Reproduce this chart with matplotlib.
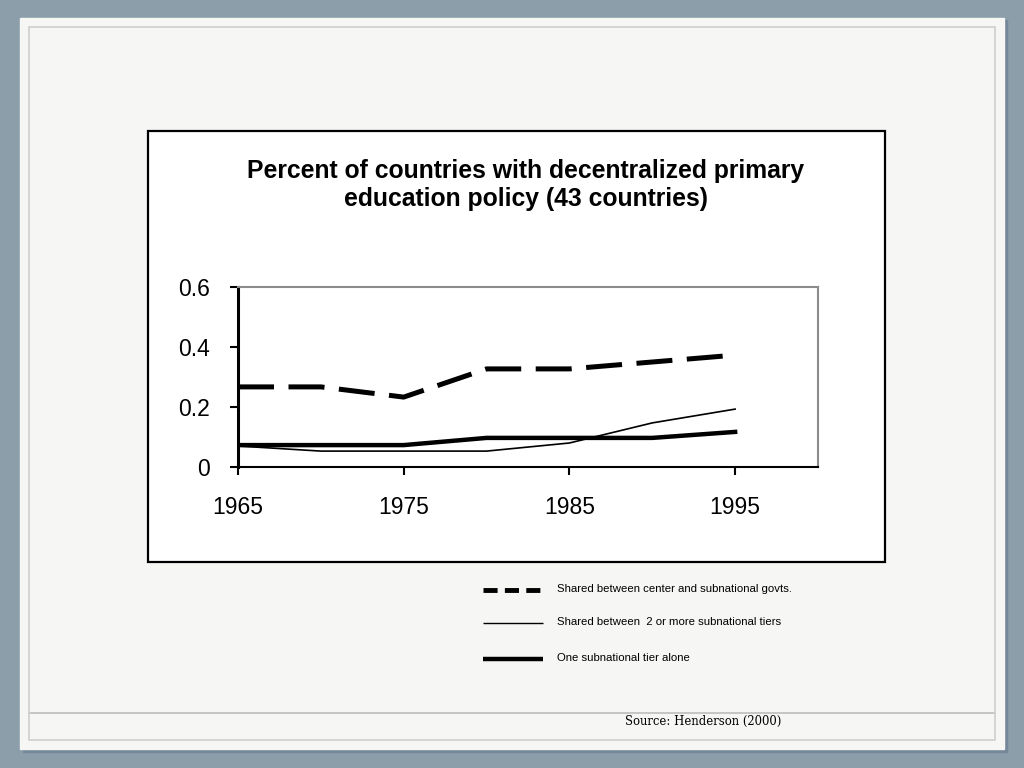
import matplotlib.pyplot as plt
from matplotlib.patches import Rectangle
from matplotlib.lines import Line2D

# data
years = [1965, 1970, 1975, 1980, 1985, 1990, 1995]
shared_center = [0.267, 0.267, 0.233, 0.327, 0.327, 0.350, 0.373]
shared_tiers = [0.070, 0.053, 0.053, 0.053, 0.080, 0.147, 0.193]
one_tier = [0.073, 0.073, 0.073, 0.097, 0.097, 0.097, 0.117]

xticks = [1965, 1975, 1985, 1995]
yticks = [0, 0.2, 0.4, 0.6]
labels = ["Shared between center and subnational govts.",
          "Shared between  2 or more subnational tiers",
          "One subnational tier alone"]

W, H = 1024, 768
fig = plt.figure(figsize=(W / 100, H / 100), dpi=100)
fig.patch.set_facecolor('#8b9eaa')

def px(x0, y0, x1, y1):
    # pixel box -> figure fraction rect
    return [x0 / W, 1 - y1 / H, (x1 - x0) / W, (y1 - y0) / H]

# slide shadow and page
fig.patches.append(Rectangle((23 / W, 1 - 752 / H), 984 / W, 732 / H,
                             transform=fig.transFigure, color='#75889a', zorder=0))
fig.patches.append(Rectangle((20 / W, 1 - 749 / H), 984 / W, 731 / H,
                             transform=fig.transFigure, color='#f6f6f5', zorder=1))
fig.patches.append(Rectangle((29 / W, 1 - 740 / H), 966 / W, 713 / H,
                             transform=fig.transFigure, fill=False,
                             edgecolor='#cfcfcc', lw=1.2, zorder=2))
fig.lines.append(Line2D([29 / W, 995 / W], [1 - 713 / H, 1 - 713 / H],
                        transform=fig.transFigure, color='#bdbdbb', lw=1.2, zorder=2))

# chart box
fig.patches.append(Rectangle((148 / W, 1 - 562 / H), 737 / W, 431 / H,
                             transform=fig.transFigure, facecolor='white',
                             edgecolor='black', lw=1.6, zorder=3))

fig.text(526 / W, 1 - 185 / H,
         "Percent of countries with decentralized primary\neducation policy (43 countries)",
         ha='center', va='center', fontsize=17.8, fontweight='bold',
         family='Liberation Sans', linespacing=1.22, zorder=4)

ax = fig.add_axes(px(238, 287, 818, 467))
ax.set_zorder(5)
ax.set_facecolor('white')
ax.plot(years, shared_center, color='black', lw=3.6, dashes=(7.2, 2.9), solid_capstyle='butt')
ax.plot(years, shared_tiers, color='black', lw=1.2)
ax.plot(years, one_tier, color='black', lw=3.2)
ax.set_xlim(1965, 2000)
ax.set_ylim(0, 0.6)
ax.set_xticks(xticks)
ax.set_yticks(yticks)
ax.set_yticklabels(['0', '0.2', '0.4', '0.6'])
for s in ['top', 'right']:
    ax.spines[s].set_color('#8c8c8c')
    ax.spines[s].set_linewidth(1.5)
ax.spines['left'].set_color('black')
ax.spines['left'].set_linewidth(2.2)
ax.spines['bottom'].set_color('black')
ax.spines['bottom'].set_linewidth(1.5)
ax.tick_params(axis='both', direction='out', length=6, width=1.5, color='black',
               labelsize=16.5)
ax.tick_params(axis='x', pad=15)
ax.tick_params(axis='y', pad=14)
for t in ax.get_xticklabels() + ax.get_yticklabels():
    t.set_family('Liberation Sans')

# legend drawn below the chart box
leg_y = [590, 623, 659]
styles = [dict(lw=3.5, dashes=(2.9, 1.5)), dict(lw=1.0), dict(lw=3.2)]
for y, lab, st in zip(leg_y, labels, styles):
    fig.lines.append(Line2D([483 / W, 543 / W], [1 - y / H, 1 - y / H],
                            transform=fig.transFigure, color='black',
                            solid_capstyle='butt', zorder=6, **st))
    fig.text(557 / W, 1 - (y - 1) / H, lab, ha='left', va='center', fontsize=8.2,
             family='Liberation Sans', zorder=6)

fig.text(781 / W, 1 - 721 / H, "Source: Henderson (2000)", ha='right', va='center',
         fontsize=8.4, family='DejaVu Serif', zorder=6)

fig.savefig('out.png', dpi=100, facecolor=fig.get_facecolor())
